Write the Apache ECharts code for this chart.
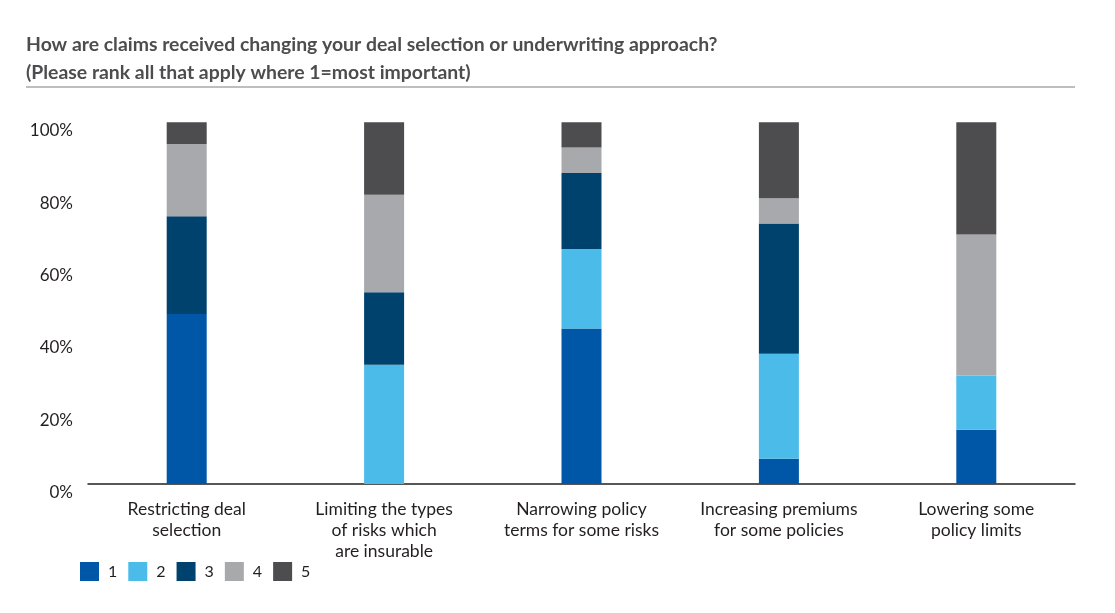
<!DOCTYPE html>
<html>
<head>
<meta charset="utf-8">
<script src="https://cdn.jsdelivr.net/npm/echarts@6/dist/echarts.min.js"></script>
<style>
html,body{margin:0;padding:0;background:#fff;}
#c{width:1115px;height:613px;}
</style>
</head>
<body>
<div id="c"></div>
<script>
const categories = [
  'Restricting deal\nselection',
  'Limiting the types\nof risks which\nare insurable',
  'Narrowing policy\nterms for some risks',
  'Increasing premiums\nfor some policies',
  'Lowering some\npolicy limits'
];
const seriesNames = ['1', '2', '3', '4', '5'];
const rank1 = [47, 0, 43, 7, 15];
const rank2 = [0, 33, 22, 29, 15];
const rank3 = [27, 20, 21, 36, 0];
const rank4 = [20, 27, 7, 7, 39];
const rank5 = [6, 20, 7, 21, 31];
const yTicks = [0, 20, 40, 60, 80, 100];
const colors = ['#0057a8', '#4bbbea', '#00426e', '#a7a9ac', '#4d4d4f'];
const allData = [rank1, rank2, rank3, rank4, rank5];

const FONT = 'Lato';
const chart = echarts.init(document.getElementById('c'));
chart.setOption({
  animation: false,
  textStyle: { fontFamily: FONT },
  title: {
    text: 'How are claims received changing your deal selection or underwriting approach?\n(Please rank all that apply where 1=most important)',
    left: 26, top: 31, padding: 0,
    textStyle: { fontFamily: FONT, fontSize: 19.4, fontWeight: 'bold', color: '#4d4d4f', lineHeight: 28 }
  },
  graphic: [{
    type: 'line',
    shape: { x1: 26, y1: 87, x2: 1075, y2: 87 },
    style: { stroke: '#a7a9ac', lineWidth: 1.5 }
  }],
  legend: {
    data: seriesNames,
    left: 80, top: 562, padding: 0,
    itemWidth: 19, itemHeight: 19, itemGap: 11,
    icon: 'rect',
    textStyle: { fontFamily: FONT, fontSize: 16, color: '#231f20', padding: [0, 0, 0, 4] }
  },
  grid: { left: 88, right: 40, top: 122.3, bottom: 129 },
  xAxis: {
    type: 'category',
    data: categories,
    axisLine: { lineStyle: { color: '#231f20', width: 1.5 } },
    axisTick: { show: false },
    axisLabel: { interval: 0, fontFamily: FONT, fontSize: 17.5, lineHeight: 21, color: '#231f20', margin: 15 }
  },
  yAxis: {
    type: 'value',
    min: 0, max: 100, interval: 20,
    axisLine: { show: false },
    axisTick: { show: false },
    splitLine: { show: false },
    axisLabel: {
      fontFamily: FONT, fontSize: 17, color: '#231f20', margin: 15,
      verticalAlign: 'top',
      formatter: v => yTicks.includes(v) ? v + '%' : ''
    }
  },
  series: seriesNames.map((n, i) => ({
    name: n,
    type: 'bar',
    stack: 'total',
    barWidth: 40,
    data: allData[i],
    itemStyle: { color: colors[i] }
  }))
});
</script>
</body>
</html>
